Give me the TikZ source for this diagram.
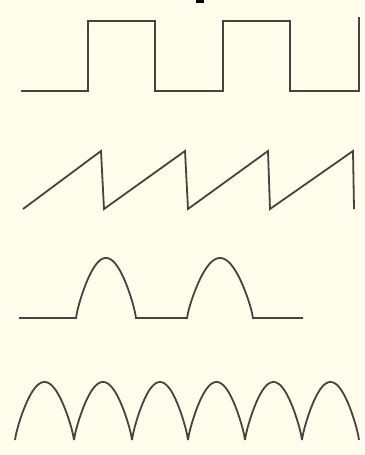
\documentclass[tikz,border=0pt]{standalone}
\definecolor{paper}{RGB}{255,253,236}
\definecolor{ink}{RGB}{78,64,58}
\begin{document}
\begin{tikzpicture}[x=1pt,y=-1pt,
  wave/.style={draw=ink,line width=1.8pt,line join=miter,line cap=butt}]
\fill[paper] (0,0) rectangle (364,455);
\useasboundingbox (0,0) rectangle (364,455);
% fragment of cut-off title
\fill[black] (196,0) rectangle (204,2.5);
% square wave
\draw[wave] (21,91) -- (88,91) -- (88,21) -- (155,21) -- (155,91) -- (223,91) -- (223,21) -- (290,21) -- (290,91) -- (359,91) -- (359,17);
% sawtooth
\draw[wave] (23,209) -- (101,151) -- (104,209) -- (185,151) -- (188,209) -- (268,151) -- (270,209) -- (353,151) -- (354,209);
% half-wave rectified
\draw[wave] (19,318) -- (76,318)
  -- plot[domain=0:180,samples=60] ({76+60*\x/180},{318-60*(sin(\x))^0.8})
  -- (187,318)
  -- plot[domain=0:180,samples=60] ({187+66*\x/180},{318-60*(sin(\x))^0.8})
  -- (303,318);
% full-wave rectified
\foreach \a/\b in {15/74,74/132,132/188,188/245,245/302,302/359}{
  \draw[wave] plot[domain=0:180,samples=60] ({\a+(\b-\a)*\x/180},{440-58*(sin(\x))^0.8});
}
\end{tikzpicture}
\end{document}
